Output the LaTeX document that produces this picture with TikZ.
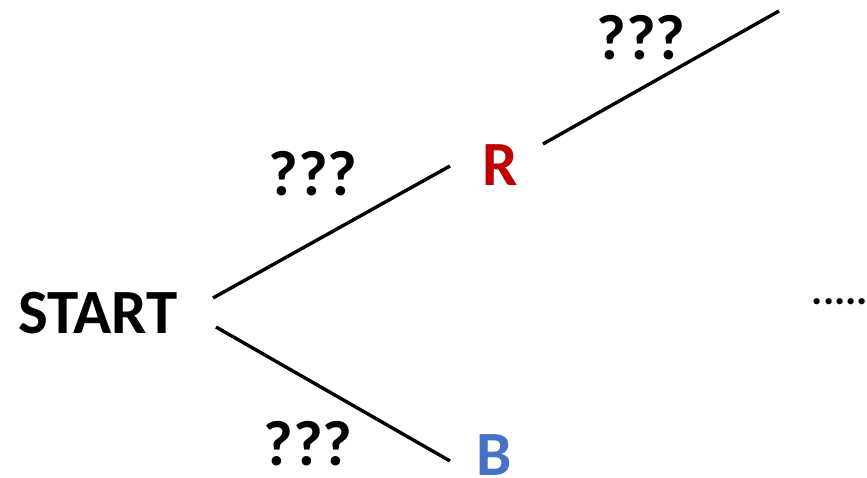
\documentclass[tikz,border=0pt]{standalone}
\usepackage{fontspec}
\setmainfont{Carlito}
\definecolor{redstate}{HTML}{C00000}
\definecolor{bluestate}{HTML}{4472C4}
\definecolor{ink}{HTML}{000000}

\begin{document}
\begin{tikzpicture}[
    x=1pt, y=-1pt,
    text=ink,
    state/.style={
        inner sep=0pt,
        anchor=center,
        font=\fontsize{63}{63}\selectfont\bfseries
    },
    guess/.style={inner sep=0pt, font=\fontsize{64}{64}\selectfont\bfseries},
    branch/.style={draw=ink, line width=3.4pt}
]
\useasboundingbox (0,0) rectangle (867,478);

\node[state] (start) at (98,313.5) {START};
\node[state, text=redstate] (red) at (500,165) {R};
\node[state, text=bluestate] (blue) at (494,455) {B};
\coordinate (tip) at (779,11);

\node[guess] (guessred) at (313,174) {???};
\node[guess] (guessblue) at (308,444) {???};
\node[guess] (guessnext) at (641,38) {???};
\node[inner sep=0pt, font=\fontsize{42}{42}\selectfont\bfseries] (more) at (840,302) {.....};

\draw[branch] ([shift={(115,-15.5)}]start.center) -- ([shift={(-50,1)}]red.center);
\draw[branch] ([shift={(118,13.5)}]start.center) -- ([shift={(-44,6)}]blue.center);
\draw[branch] ([shift={(43,-21)}]red.center) -- (tip);

\end{tikzpicture}
\end{document}
